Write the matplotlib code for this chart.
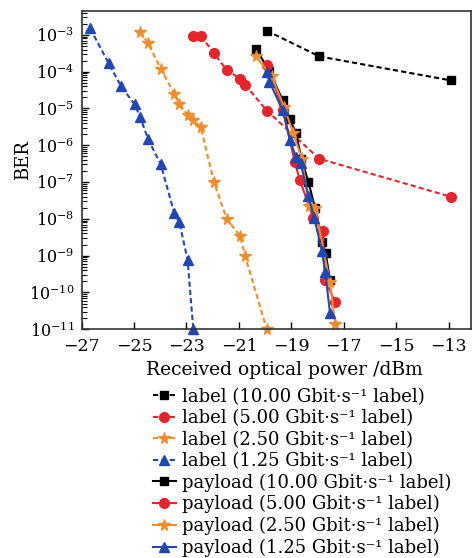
import numpy as np
import matplotlib
matplotlib.use("Agg")
import matplotlib.pyplot as plt
from matplotlib.ticker import FixedLocator, NullFormatter

plt.rcParams['font.family'] = ['DejaVu Serif']
plt.rcParams['mathtext.fontset'] = 'dejavuserif'

# label curves (dashed)
lab10_x = [-19.94, -17.94, -12.93]
lab10_y = [1.3e-3, 2.6e-4, 5.8e-5]

lab5_x = [-22.76, -22.46, -21.95, -21.47, -20.95, -20.76, -19.94, -17.94, -12.93]
lab5_y = [9.5e-4, 9.5e-4, 3.2e-4, 1.1e-4, 6.5e-5, 4.4e-5, 8.7e-6, 4.3e-7, 4.0e-8]

lab25_x = [-24.77, -24.46, -23.98, -23.46, -23.27, -22.96, -22.74, -22.46,
           -21.95, -21.47, -20.96, -20.76, -19.94]
lab25_y = [1.23e-3, 5.9e-4, 1.2e-4, 2.5e-5, 1.3e-5, 6.8e-6, 4.9e-6, 3.2e-6,
           9.8e-8, 1.0e-8, 3.5e-9, 9.5e-10, 1e-11]

lab125_x = [-26.67, -25.97, -25.49, -24.98, -24.77, -24.46, -23.98, -23.46,
            -23.27, -22.96, -22.74]
lab125_y = [1.5e-3, 1.7e-4, 4.0e-5, 1.3e-5, 6.0e-6, 1.45e-6, 3.0e-7, 1.4e-8,
            8e-9, 7.8e-10, 1e-11]

# payload curves (solid)
pay10_x = [-20.35, -19.84, -19.34, -19.06, -18.83, -18.62, -18.35, -18.10,
           -17.83, -17.70, -17.53]
pay10_y = [4.1e-4, 1.05e-4, 1.7e-5, 5.1e-6, 2.2e-6, 4.3e-7, 9.8e-8, 2.0e-8,
           2.4e-9, 1.2e-9, 2.2e-10]

pay5_x = [-19.94, -19.31, -18.87, -18.68, -18.17, -17.81, -17.72, -17.33]
pay5_y = [1.5e-4, 9.1e-6, 3.4e-7, 1.15e-7, 1.05e-8, 4.7e-9, 2.2e-10, 5.4e-11]

pay25_x = [-20.35, -19.75, -19.28, -18.93, -18.60, -18.32, -18.10, -17.53, -17.33]
pay25_y = [2.6e-4, 7.4e-5, 1.1e-5, 2.1e-6, 4.2e-7, 2.2e-8, 1.95e-8, 1.9e-10, 1.4e-11]

pay125_x = [-19.94, -19.84, -19.34, -19.06, -18.83, -18.65, -18.35, -18.13,
            -17.84, -17.71, -17.53]
pay125_y = [9.5e-5, 5.4e-5, 9.1e-6, 1.4e-6, 4.9e-7, 3.2e-7, 4.1e-8, 1.05e-8,
            1.35e-9, 3.5e-10, 2.75e-11]

rates = ["10.00", "5.00", "2.50", "1.25"]
black, red, orange, blue = "#000000", "#e8232a", "#f28c28", "#1f48b4"

fig = plt.figure(figsize=(4.74, 5.58), dpi=100)
ax = fig.add_axes([0.172, 0.41, 0.822, 0.571])

dash = (0, (2.5, 1.5))
ax.plot(lab10_x, lab10_y, ls=dash, color=black, marker="s", ms=6, lw=1.5,
        label="label (%s Gbit·s⁻¹ label)" % rates[0])
ax.plot(lab5_x, lab5_y, ls=dash, color=red, marker="o", ms=7, lw=1.5,
        label="label (%s Gbit·s⁻¹ label)" % rates[1])
ax.plot(lab25_x, lab25_y, ls=dash, color=orange, marker="*", ms=8.5, lw=1.5,
        label="label (%s Gbit·s⁻¹ label)" % rates[2], clip_on=False)
ax.plot(lab125_x, lab125_y, ls=dash, color=blue, marker="^", ms=7.5, lw=1.5,
        label="label (%s Gbit·s⁻¹ label)" % rates[3], clip_on=False)

ax.plot(pay10_x, pay10_y, ls="-", color=black, marker="s", ms=6, lw=1.5,
        label="payload (%s Gbit·s⁻¹ label)" % rates[0])
ax.plot(pay5_x, pay5_y, ls="-", color=red, marker="o", ms=7, lw=1.5,
        label="payload (%s Gbit·s⁻¹ label)" % rates[1])
ax.plot(pay25_x, pay25_y, ls="-", color=orange, marker="*", ms=8.5, lw=1.5,
        label="payload (%s Gbit·s⁻¹ label)" % rates[2], clip_on=False)
ax.plot(pay125_x, pay125_y, ls="-", color=blue, marker="^", ms=7.5, lw=1.5,
        label="payload (%s Gbit·s⁻¹ label)" % rates[3])

ax.set_yscale("log")
ax.set_xlim(-27, -12.15)
ax.set_ylim(1e-11, 10**-2.34)
ax.set_xticks([-27, -25, -23, -21, -19, -17, -15, -13])
ax.set_xticklabels(["−27", "−25", "−23", "−21", "−19", "−17", "−15", "−13"])
ax.set_yticks([10.0**-k for k in range(3, 12)])
ax.set_yticklabels([r"$10^{-%d}$" % k for k in range(3, 12)])
minor = [m * 10.0**e for e in range(-11, -2) for m in range(2, 10)]
ax.yaxis.set_minor_locator(FixedLocator(minor))
ax.yaxis.set_minor_formatter(NullFormatter())
ax.tick_params(axis="x", which="both", direction="in", labelsize=12.5)
ax.tick_params(axis="y", which="both", direction="in", labelsize=11.5)
ax.tick_params(axis="both", which="major", length=5, width=1)
ax.tick_params(axis="y", which="minor", length=3.5, width=0.8)
ax.xaxis.set_tick_params(pad=6)
ax.yaxis.set_tick_params(pad=5)
for s in ax.spines.values():
    s.set_linewidth(1.2)
    s.set_color("#333333")

ax.set_xlabel("Received optical power /dBm", fontsize=13.5)
ax.xaxis.set_label_coords(0.52, -0.1)
ax.set_ylabel("BER", fontsize=13)
ax.yaxis.set_label_coords(-0.128, 0.53)

fig.legend(loc="upper left", bbox_to_anchor=(0.322, 0.305), frameon=False,
           fontsize=13, handlelength=1.3, handletextpad=0.3,
           labelspacing=0.19, borderpad=0, borderaxespad=0)

fig.savefig("out.png", dpi=100)
